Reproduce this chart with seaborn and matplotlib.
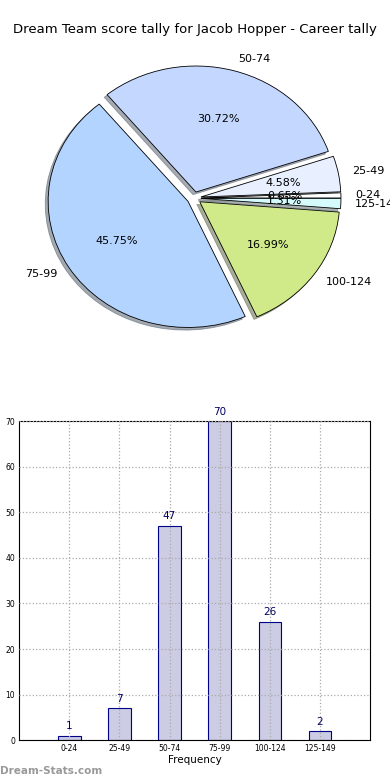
import matplotlib
matplotlib.use("Agg")
import matplotlib.pyplot as plt
import seaborn as sns
import pandas as pd

# score bands and how often each happened
bands = ["0-24", "25-49", "50-74", "75-99", "100-124", "125-149"]
counts = [1, 7, 47, 70, 26, 2]
pie_colors = ["#ffffff", "#e8f0ff", "#c4d8ff", "#b3d4ff", "#d0ea8a", "#d4fafc"]

title = "Dream Team score tally for Jacob Hopper - Career tally"

sns.set_style("white")
plt.rcParams["font.family"] = ["DejaVu Sans"]
plt.rcParams["text.color"] = "black"
plt.rcParams["axes.labelcolor"] = "black"
plt.rcParams["xtick.color"] = "black"
plt.rcParams["ytick.color"] = "black"

df = pd.DataFrame({"band": bands, "count": counts})

fig = plt.figure(figsize=(3.9, 7.8), dpi=100)

# pie on top
ax1 = fig.add_axes([0.049, 0.544, 0.897, 0.404])
ax1.pie(df["count"], labels=df["band"], colors=pie_colors, explode=[0.05] * 6,
        autopct="%1.2f%%", shadow={"ox": -0.015, "oy": -0.015, "shade": 0.6},
        startangle=0,
        wedgeprops={"edgecolor": "black", "linewidth": 0.6},
        textprops={"fontsize": 8, "color": "black"})
ax1.set_aspect("auto")
ax1.set_xlim(-1.25, 1.25)
ax1.set_ylim(-1.25, 1.25)
fig.text(0.5, 0.962, title, ha="center", va="center", fontsize=9.5)

# bars below
ax2 = fig.add_axes([0.049, 0.051, 0.9, 0.409])
sns.barplot(data=df, x="band", y="count", ax=ax2, width=0.45,
            color="#cccce4", edgecolor="#000088", linewidth=0.8, saturation=1)
ax2.set_xlim(-1, 6)
ax2.set_ylim(0, 70)
ax2.set_yticks(range(0, 71, 10))
ax2.grid(True, linestyle=":", color="#aaaaaa", linewidth=0.9)
ax2.set_axisbelow(False)
ax2.tick_params(labelsize=5.5, direction="in", length=3, pad=3)
for s in ax2.spines.values():
    s.set_color("black")
    s.set_linewidth(0.8)
ax2.set_xlabel("Frequency", fontsize=7.5, labelpad=1)
ax2.set_ylabel("")
for i, c in enumerate(counts):
    ax2.text(i, c + 1, str(c), ha="center", va="bottom", fontsize=7.5, color="#000066")

fig.text(0.0, 0.005, "Dream-Stats.com", fontsize=7.5, color="#999999",
         fontweight="bold", ha="left", va="bottom")

fig.savefig("out.png", dpi=100)
